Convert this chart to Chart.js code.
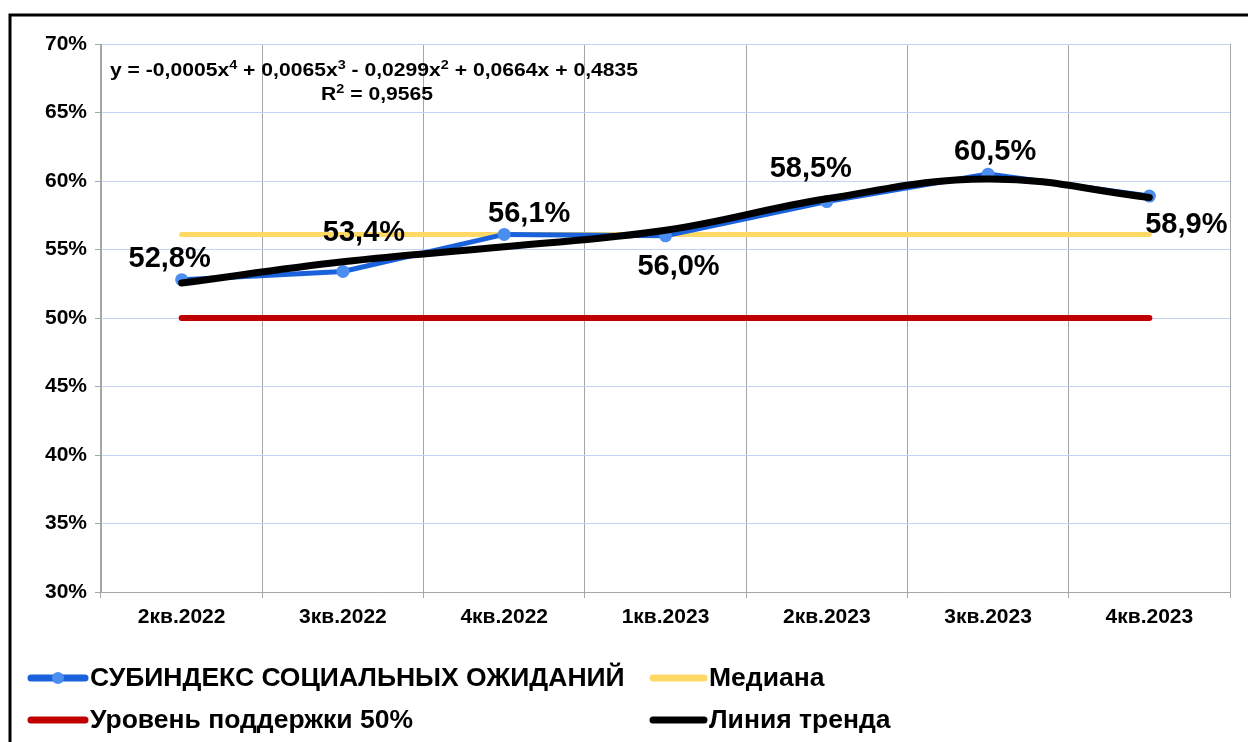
<!DOCTYPE html>
<html lang="ru">
<head>
<meta charset="utf-8">
<script src="https://cdn.jsdelivr.net/npm/chart.js@4.4.1/dist/chart.umd.min.js"></script>
<style>
  html, body { margin: 0; padding: 0; background: #fff; }
  #wrap { width: 1248px; height: 742px; position: relative; }
</style>
</head>
<body>
<div id="wrap"><canvas id="chart" width="1248" height="742"></canvas></div>
<script>
const quarters = ['2кв.2022', '3кв.2022', '4кв.2022', '1кв.2023', '2кв.2023', '3кв.2023', '4кв.2023'];
const subindex = [52.8, 53.4, 56.1, 56.0, 58.5, 60.5, 58.9];
const median = [56.1, 56.1, 56.1, 56.1, 56.1, 56.1, 56.1];
const supportLevel = [50, 50, 50, 50, 50, 50, 50];
const trend = [52.55, 54.1, 55.2, 56.4, 58.7, 60.15, 58.8];
const seriesNames = ['СУБИНДЕКС СОЦИАЛЬНЫХ ОЖИДАНИЙ', 'Медиана', 'Уровень поддержки 50%', 'Линия тренда'];
// equation pieces: [text, superscript?]
const equationParts = [['y = -0,0005x', false], ['4', true], [' + 0,0065x', false], ['3', true],
                       [' - 0,0299x', false], ['2', true], [' + 0,0664x + 0,4835', false]];
const r2Parts = [['R', false], ['2', true], [' = 0,9565', false]];

const FONT = "'Liberation Sans', Arial, sans-serif";

// frame round the picture
const framePlugin = {
    id: 'frame',
    beforeDraw(chart) {
        const { ctx } = chart;
        ctx.save();
        ctx.strokeStyle = '#000';
        ctx.lineWidth = 3;
        ctx.beginPath();
        ctx.moveTo(10, 760);
        ctx.lineTo(10, 15);
        ctx.lineTo(1260, 15);
        ctx.stroke();
        ctx.restore();
    }
};

// value labels next to the points of the main series
const valueLabelsPlugin = {
    id: 'valueLabels',
    afterDatasetsDraw(chart, args, opts) {
        const { ctx } = chart;
        const meta = chart.getDatasetMeta(opts.datasetIndex);
        const values = chart.data.datasets[opts.datasetIndex].data;
        ctx.save();
        ctx.font = `bold 29px ${FONT}`;
        ctx.fillStyle = '#000';
        ctx.textAlign = 'center';
        ctx.textBaseline = 'middle';
        meta.data.forEach((pt, i) => {
            const [dx, dy] = opts.offsets[i];
            ctx.fillText(values[i].toFixed(1).replace('.', ',') + '%', pt.x + dx, pt.y + dy);
        });
        ctx.restore();
    }
};

function partsWidth(ctx, parts) {
    let w = 0;
    parts.forEach(([t, sup]) => {
        ctx.font = sup ? `bold 13px ${FONT}` : `bold 19px ${FONT}`;
        w += ctx.measureText(t).width;
    });
    return w;
}

function drawParts(ctx, parts, x, y) {
    parts.forEach(([t, sup]) => {
        ctx.font = sup ? `bold 13px ${FONT}` : `bold 19px ${FONT}`;
        ctx.fillText(t, x, sup ? y - 7 : y);
        x += ctx.measureText(t).width;
    });
}

// trend equation, legend
const annotationsPlugin = {
    id: 'annotations',
    afterDraw(chart) {
        const { ctx } = chart;
        ctx.save();
        ctx.fillStyle = '#000';
        ctx.textBaseline = 'alphabetic';
        ctx.textAlign = 'left';
        const eqW = partsWidth(ctx, equationParts);
        const sx = 528 / eqW;
        ctx.save();
        ctx.translate(110, 0);
        ctx.scale(sx, 1);
        drawParts(ctx, equationParts, 0, 76);
        ctx.restore();
        const r2W = partsWidth(ctx, r2Parts) * sx;
        ctx.save();
        ctx.translate(377 - r2W / 2, 0);
        ctx.scale(sx, 1);
        drawParts(ctx, r2Parts, 0, 100);
        ctx.restore();

        const items = [
            { ds: 1, x: 28, y: 678, marker: true },
            { ds: 2, x: 650, y: 678 },
            { ds: 3, x: 28, y: 720 },
            { ds: 0, x: 650, y: 720 }
        ];
        ctx.font = `bold 26.5px ${FONT}`;
        ctx.textBaseline = 'middle';
        items.forEach(it => {
            const ds = chart.data.datasets[it.ds];
            const len = it.x < 100 ? 60 : 57;
            ctx.strokeStyle = ds.borderColor;
            ctx.lineWidth = 7;
            ctx.lineCap = 'round';
            ctx.beginPath();
            ctx.moveTo(it.x + 3, it.y);
            ctx.lineTo(it.x + len - 3, it.y);
            ctx.stroke();
            if (it.marker) {
                ctx.fillStyle = ds.pointBackgroundColor;
                ctx.beginPath();
                ctx.arc(it.x + len / 2, it.y, 6, 0, Math.PI * 2);
                ctx.fill();
            }
            ctx.fillStyle = '#000';
            ctx.fillText(ds.label, it.x + len + 2, it.y + 1);
        });
        ctx.restore();
    }
};

Chart.register(framePlugin, valueLabelsPlugin, annotationsPlugin);

const ctx = document.getElementById('chart').getContext('2d');
const chart = new Chart(ctx, {
    type: 'line',
    data: {
        labels: quarters,
        datasets: [
            { label: seriesNames[3], data: trend, borderColor: '#000000', borderWidth: 7, tension: 0.4,
              borderCapStyle: 'round', pointRadius: 0, fill: false, order: 0 },
            { label: seriesNames[0], data: subindex, borderColor: '#1a62dc', borderWidth: 5, tension: 0,
              pointRadius: 4, pointBackgroundColor: '#4b8ef0', pointBorderColor: '#4b8ef0', fill: false, order: 1 },
            { label: seriesNames[1], data: median, borderColor: '#ffd966', borderWidth: 5, borderCapStyle: 'round',
              pointRadius: 0, fill: false, order: 2 },
            { label: seriesNames[2], data: supportLevel, borderColor: '#c00000', borderWidth: 6, borderCapStyle: 'round',
              pointRadius: 0, fill: false, order: 3 }
        ]
    },
    options: {
        responsive: false,
        animation: false,
        devicePixelRatio: 1,
        layout: { padding: { left: 0, top: 44, right: 18, bottom: 110 } },
        scales: {
            x: {
                offset: true,
                grid: { offset: true, color: '#a6a6a6', lineWidth: 1, tickLength: 6, tickColor: '#a6a6a6' },
                border: { color: '#a6a6a6', width: 1 },
                ticks: { color: '#000', font: { family: FONT, size: 21, weight: 'bold' }, padding: 7, maxRotation: 0 },
                afterFit(scale) { scale.height = 40; }
            },
            y: {
                min: 30,
                max: 70,
                grid: { color: '#c3d3f5', lineWidth: 1, tickLength: 6, tickColor: '#a6a6a6' },
                border: { color: '#a6a6a6', width: 1 },
                ticks: { stepSize: 5, color: '#000', font: { family: FONT, size: 21, weight: 'bold' }, padding: 8,
                         callback: v => v + '%' },
                afterFit(scale) { scale.width = 101; }
            }
        },
        plugins: {
            legend: { display: false },
            tooltip: { enabled: false },
            valueLabels: {
                datasetIndex: 1,
                offsets: [[-12, -21], [21, -38], [25, -20], [13, 31], [-16, -33], [7, -22], [37, 29]]
            }
        }
    }
});
</script>
</body>
</html>
